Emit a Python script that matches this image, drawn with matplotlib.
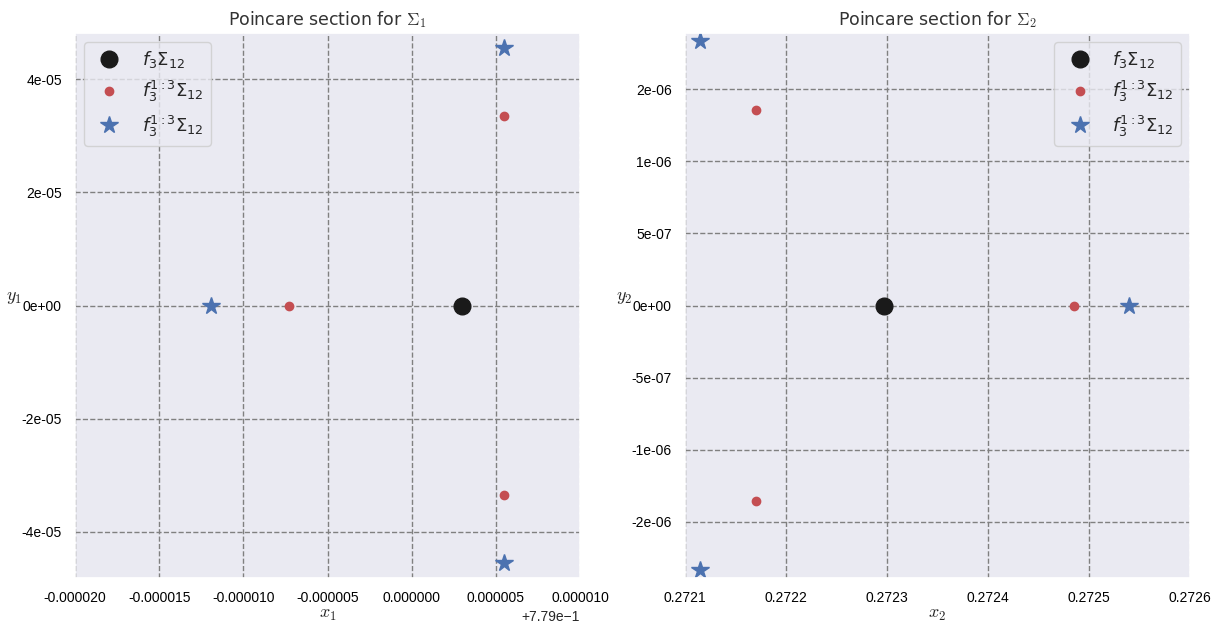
import numpy as np
import matplotlib
matplotlib.use("Agg")
import matplotlib.pyplot as plt
import seaborn as sns
from matplotlib.ticker import FuncFormatter, FormatStrFormatter, MultipleLocator
from matplotlib.font_manager import FontProperties

sns.set(style="darkgrid", color_codes=True)
plt.rcParams['font.family'] = ['Liberation Sans', 'DejaVu Sans']
plt.rcParams['axes.unicode_minus'] = False

X0 = 0.779

# Section Sigma_1: fixed point of f3 and the period-3 orbit points
s1_fix_x = [0.779003]
s1_fix_y = [0.0]
s1_orb_x = [0.7789927, 0.7790055, 0.7790055]
s1_orb_y = [0.0, 3.36e-05, -3.36e-05]
s1_star_x = [0.7789881, 0.7790055, 0.7790055]
s1_star_y = [0.0, 4.55e-05, -4.55e-05]

# Section Sigma_2
s2_fix_x = [0.272297]
s2_fix_y = [0.0]
s2_orb_x = [0.27217, 0.27217, 0.272485]
s2_orb_y = [1.357e-06, -1.357e-06, 0.0]
s2_star_x = [0.272115, 0.272115, 0.27254]
s2_star_y = [1.833e-06, -1.833e-06, 0.0]

lab_fix = r'$f_3\Sigma_{12}$'
lab_orb = r'$f_3^{1:3}\Sigma_{12}$'

fig = plt.figure(figsize=(12.18, 6.23), dpi=100)
ax1 = fig.add_axes([75/1218, 1 - 578/623, 505/1218, 545/623])
ax2 = fig.add_axes([685/1218, 1 - 578/623, 505/1218, 545/623])

title_fp = FontProperties(family='DejaVu Sans', size=12.5, math_fontfamily='cm')
label_fp = FontProperties(size=13, math_fontfamily='cm')
leg_fp = FontProperties(family='DejaVu Sans', size=13, math_fontfamily='dejavusans')

for ax, fx, fy, ox, oy, sx, sy in [
        (ax1, s1_fix_x, s1_fix_y, s1_orb_x, s1_orb_y, s1_star_x, s1_star_y),
        (ax2, s2_fix_x, s2_fix_y, s2_orb_x, s2_orb_y, s2_star_x, s2_star_y)]:
    ax.plot(fx, fy, 'ko', markersize=12, label=lab_fix)
    ax.plot(ox, oy, 'ro', markersize=6, label=lab_orb)
    ax.plot(sx, sy, 'b*', markersize=13, label=lab_orb)
    ax.grid(True, linestyle='--', color='gray', linewidth=1)
    ax.tick_params(labelsize=10, colors='black')

# left panel
ax1.set_xlim(X0 - 2e-05, X0 + 1e-05)
ax1.set_ylim(-4.82e-05, 4.82e-05)
ax1.xaxis.set_major_locator(MultipleLocator(5e-06))
ax1.yaxis.set_major_locator(MultipleLocator(2e-05))

def off_fmt(v, pos):
    d = round(v - X0, 9)
    if abs(d) < 1e-12:
        d = 0.0
    return '%.6f' % d

ax1.xaxis.set_major_formatter(FuncFormatter(off_fmt))
ax1.yaxis.set_major_formatter(FormatStrFormatter('%.0e'))
ax1.text(1.0, -0.058, '+7.79e\u22121', transform=ax1.transAxes,
         ha='right', va='top', fontsize=10)
ax1.set_title(r'Poincare section for $\Sigma_1$', fontproperties=title_fp, color='0.2')
ax1.set_xlabel(r'$x_1$', fontproperties=label_fp)
ax1.set_ylabel(r'$y_1$', fontproperties=label_fp, rotation=0)
ax1.xaxis.set_label_coords(0.5, -0.052)
ax1.yaxis.set_label_coords(-0.12, 0.5)
ax1.legend(loc='upper left', prop=leg_fp, frameon=True)

# right panel
ax2.set_xlim(0.2721, 0.2726)
ax2.set_ylim(-1.89e-06, 1.89e-06)
ax2.xaxis.set_major_locator(MultipleLocator(1e-04))
ax2.yaxis.set_major_locator(MultipleLocator(5e-07))
ax2.xaxis.set_major_formatter(FormatStrFormatter('%.4f'))
ax2.yaxis.set_major_formatter(FormatStrFormatter('%.0e'))
ax2.set_title(r'Poincare section for $\Sigma_2$', fontproperties=title_fp, color='0.2')
ax2.set_xlabel(r'$x_2$', fontproperties=label_fp)
ax2.set_ylabel(r'$y_2$', fontproperties=label_fp, rotation=0)
ax2.xaxis.set_label_coords(0.5, -0.052)
ax2.yaxis.set_label_coords(-0.12, 0.5)
ax2.legend(loc='upper right', prop=leg_fp, frameon=True)

fig.savefig('out.png', dpi=100)
